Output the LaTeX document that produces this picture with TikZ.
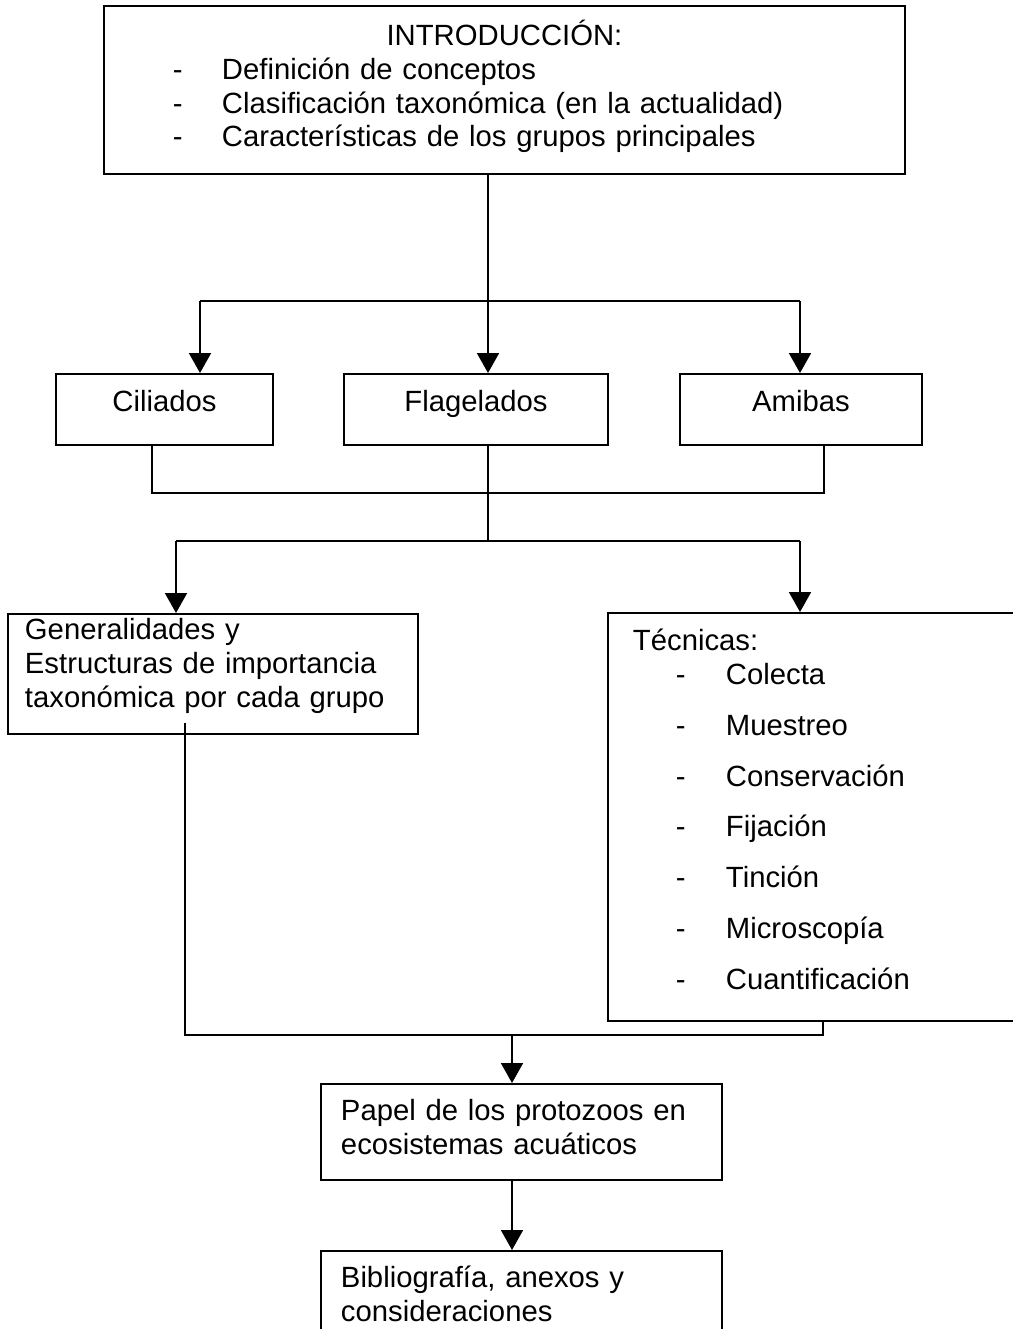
\documentclass[tikz,border=0pt]{standalone}
\usepackage{fontspec}
\setmainfont{Liberation Sans}
\usetikzlibrary{arrows.meta}

\newdimen\pxu \pxu=0.41pt
\newcommand\introitem[1]{\hspace*{52\pxu}\makebox[49\pxu][l]{-}#1}
\newcommand\tecitem[1]{\hspace*{43\pxu}\makebox[50\pxu][l]{-}#1}

\tikzset{
  caja/.style={draw, line width=0.8pt, anchor=north west, inner ysep=0pt,
    align=left, font=\fontsize{12}{13.8}\selectfont},
  flecha/.style={line width=0.8pt, -{Triangle[length=8.2pt,width=9pt]}},
  linea/.style={line width=0.8pt}
}

\begin{document}
\begin{tikzpicture}[x=\pxu, y=-\pxu]
  \useasboundingbox (0,0) rectangle (1013,1329);

  \node (intro) at (103,5) [caja, inner xsep=17\pxu, text width=767\pxu,
    text height=40\pxu, text depth=128\pxu]
    {\makebox[\linewidth]{INTRODUCCIÓN:}\\
     \introitem{Definición de conceptos}\\
     \introitem{Clasificación taxonómica (en la actualidad)}\\
     \introitem{Características de los grupos principales}};

  \node (cil)  at (55,373)  [caja, align=center, inner xsep=0pt, text width=217\pxu,
    text height=38\pxu, text depth=33\pxu] {Ciliados};
  \node (flag) at (343,373) [caja, align=center, inner xsep=0pt, text width=264\pxu,
    text height=38\pxu, text depth=33\pxu] {Flagelados};
  \node (ami)  at (679,373) [caja, align=center, inner xsep=0pt, text width=242\pxu,
    text height=38\pxu, text depth=33\pxu] {Amibas};

  \node (gen) at (7,613) [caja, inner xsep=17\pxu, text width=376\pxu,
    text height=26\pxu, text depth=94\pxu]
    {Generalidades y\\ Estructuras de importancia\\ taxonómica por cada grupo};

  \node (tec) at (607,612) [caja, inner xsep=25\pxu, text width=373\pxu,
    text height=38\pxu, text depth=370\pxu]
    {Técnicas:\\
     \tecitem{Colecta}\\[7pt]
     \tecitem{Muestreo}\\[7pt]
     \tecitem{Conservación}\\[7pt]
     \tecitem{Fijación}\\[7pt]
     \tecitem{Tinción}\\[7pt]
     \tecitem{Microscopía}\\[7pt]
     \tecitem{Cuantificación}};

  \node (pap) at (320,1083) [caja, inner xsep=20\pxu, text width=361\pxu,
    text height=37\pxu, text depth=59\pxu]
    {Papel de los protozoos en\\ ecosistemas acuáticos};
  \node (bib) at (320,1250) [caja, inner xsep=20\pxu, text width=361\pxu,
    text height=37\pxu, text depth=63\pxu]
    {Bibliografía, anexos y\\ consideraciones};

  % ramas
  \coordinate (r1) at (200,301);
  \coordinate (r2) at (488,301);
  \coordinate (r3) at (800,301);
  \coordinate (j1) at (152,493);
  \coordinate (j2) at (824,493);
  \coordinate (j3) at (488,541);
  \coordinate (g1) at (176,541);
  \coordinate (g2) at (800,541);
  \coordinate (k1) at (185,723);
  \coordinate (k2) at (185,1035);
  \coordinate (k3) at (823,1035);
  \coordinate (k4) at (512,1035);

  \draw [linea]  (intro.south -| r2) -- (r2);
  \draw [linea]  (r1) -- (r3);
  \draw [flecha] (r1) -- (r1 |- cil.north);
  \draw [flecha] (r2) -- (r2 |- flag.north);
  \draw [flecha] (r3) -- (r3 |- ami.north);

  \draw [linea]  (j1 |- cil.south) -- (j1) -- (j2) -- (j2 |- ami.south);
  \draw [linea]  (flag.south -| j3) -- (j3);
  \draw [linea]  (g1) -- (g2);
  \draw [flecha] (g1) -- (g1 |- gen.north);
  \draw [flecha] (g2) -- (g2 |- tec.north);

  \draw [linea]  (k1) -- (k2) -- (k3) -- (k3 |- tec.south);
  \draw [flecha] (k4) -- (k4 |- pap.north);
  \draw [flecha] (pap.south -| k4) -- (k4 |- bib.north);
\end{tikzpicture}
\end{document}
